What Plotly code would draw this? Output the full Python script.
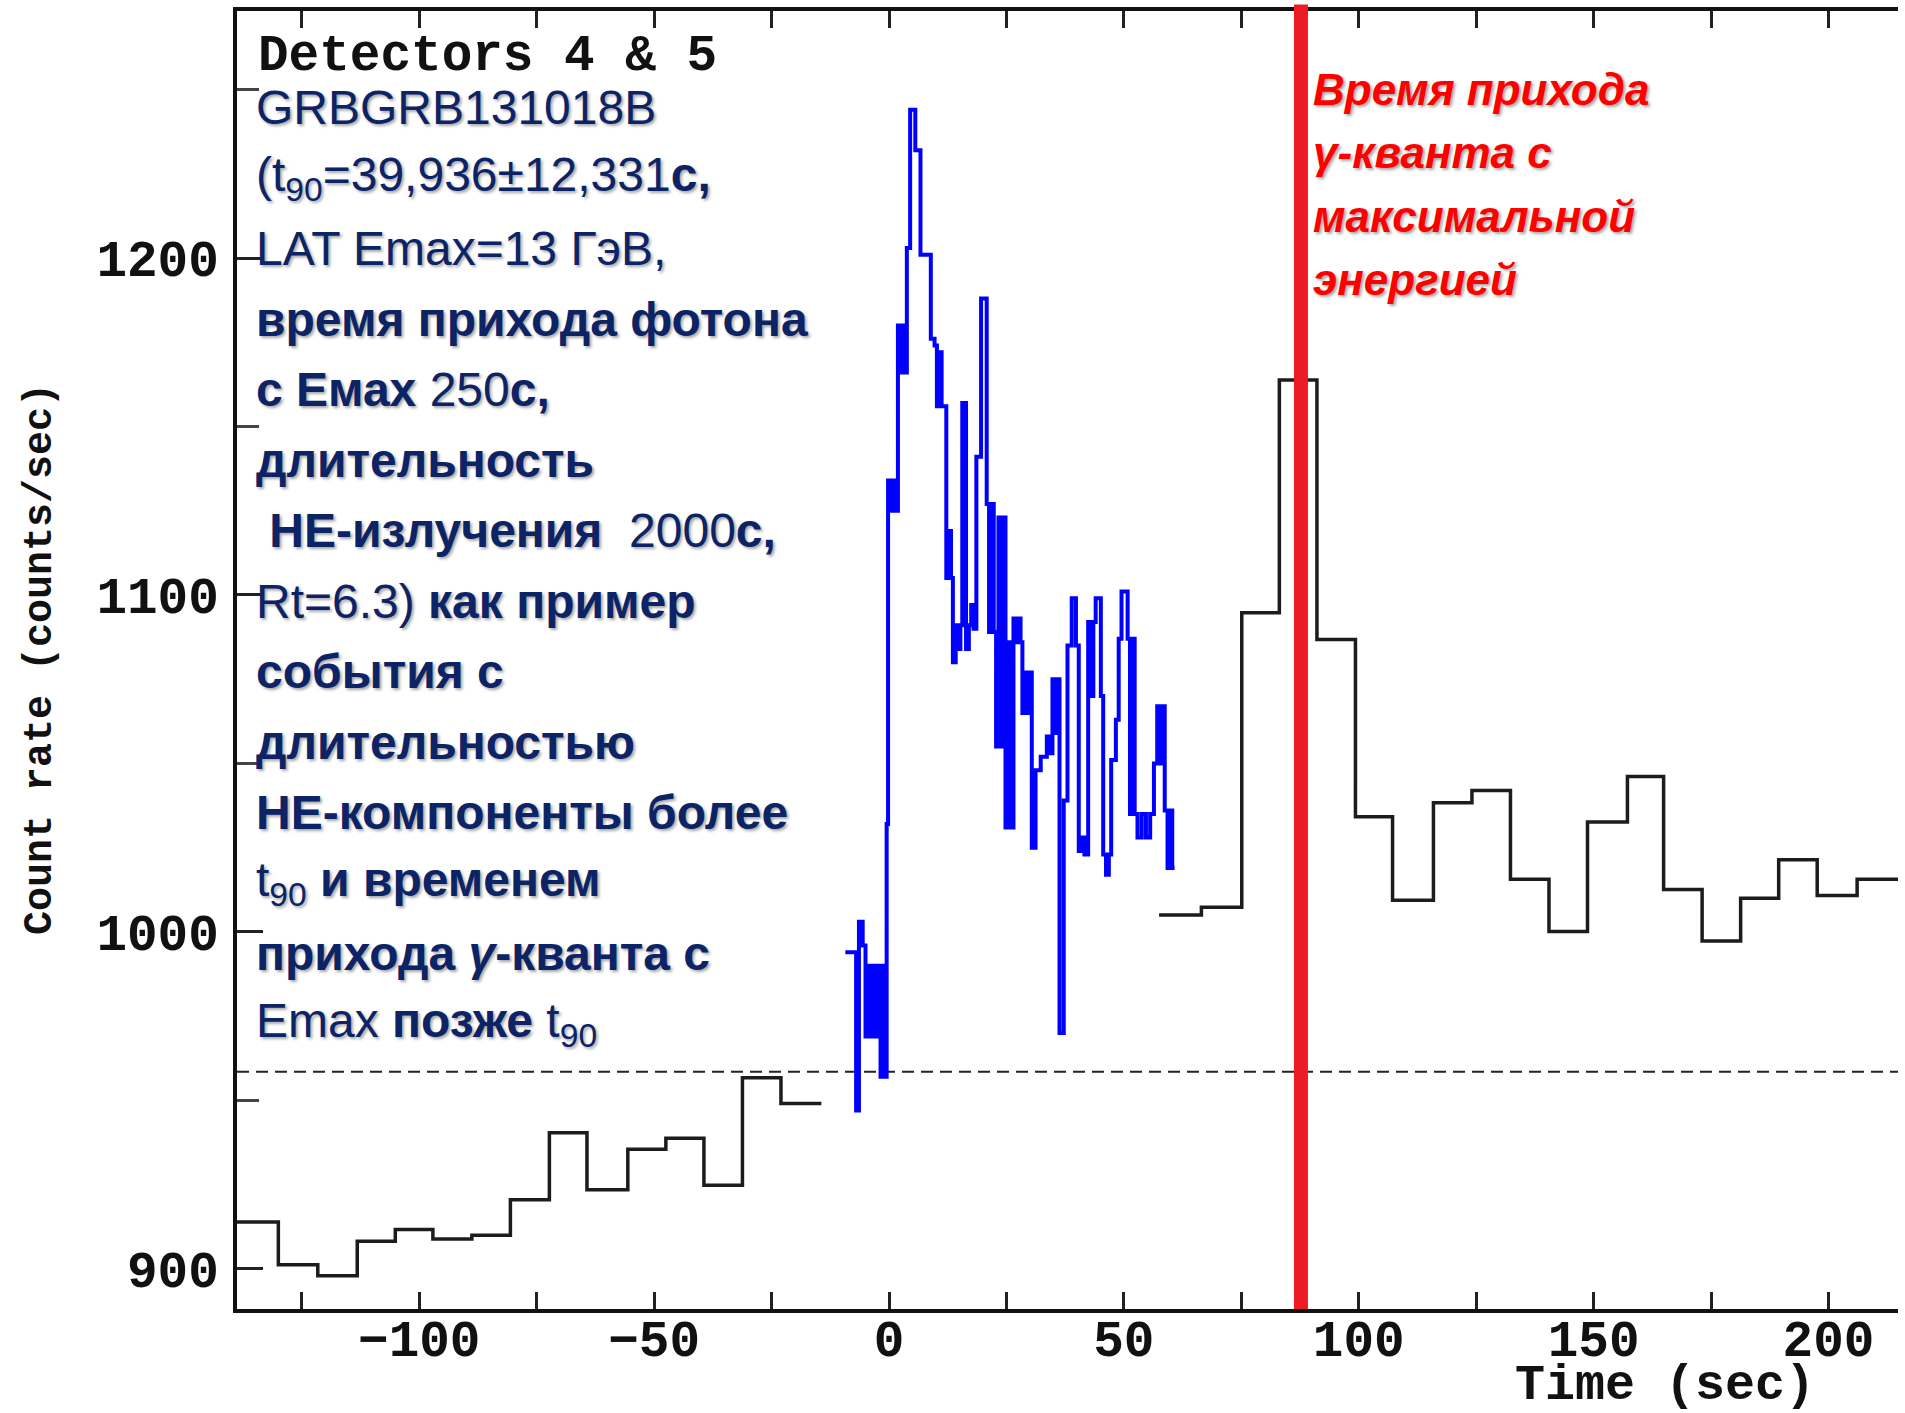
import plotly.graph_objects as go

# ---------------- data ----------------
# coarse (8 s) background histogram before the burst: bin edges and rates
pre_edges = [-138.8, -130.0, -121.6, -113.2, -105.1, -97.1, -88.8, -80.6, -72.3,
             -64.3, -55.6, -47.5, -39.4, -31.2, -23.0, -14.4]
pre_rates = [913.9, 901.2, 898.0, 908.2, 911.7, 908.9, 910.0, 920.5, 940.4,
             923.5, 935.5, 938.8, 924.8, 956.7, 949.1]

# coarse histogram after the fine-resolution interval
post_edges = [57.5, 66.5, 75.1, 83.1, 91.1, 99.3, 107.2, 115.9, 124.1, 132.3,
              140.5, 148.7, 157.2, 164.9, 173.1, 181.3, 189.4, 197.6, 206.1, 214.8]
post_rates = [1005.0, 1007.3, 1094.7, 1163.8, 1086.8, 1034.2, 1009.4, 1038.3,
              1042.0, 1015.6, 1000.1, 1032.6, 1046.1, 1012.6, 997.3, 1010.0,
              1021.4, 1010.8, 1015.6]

# fine-resolution light curve of the burst (step start times and rates)
fine_times = [-9.3, -7.0, -6.4, -5.6, -5.0, -4.3, -3.8, -3.3, -2.8, -2.3, -1.8,
              -1.3, -0.9, -0.5, -0.2, 0.3, 0.8, 1.3, 1.9, 2.4, 2.9, 3.4, 3.8,
              4.5, 5.6, 6.7, 8.9, 9.7, 10.2, 10.7, 11.2, 11.7, 12.2, 12.7, 13.2,
              13.6, 14.2, 14.7, 15.2, 15.6, 16.4, 17.0, 17.5, 18.0, 18.6, 19.6,
              20.8, 21.3, 21.8, 22.3, 22.8, 23.3, 23.8, 24.3, 24.8, 25.4, 25.9,
              26.5, 27.0, 27.5, 28.0, 28.4, 28.9, 29.4, 29.9, 30.4, 31.2, 32.3,
              33.6, 34.2, 34.8, 35.3, 35.8, 36.3, 37.2, 38.0, 38.9, 39.8, 40.4,
              41.0, 41.6, 42.4, 43.0, 43.5, 44.0, 45.1, 45.6, 46.2, 46.8, 47.3,
              48.3, 48.9, 49.5, 50.8, 51.3, 51.8, 52.3, 52.9, 53.8, 54.7, 55.6,
              56.4, 57.1, 57.6, 58.1, 58.7, 59.3, 59.8, 60.3]
fine_rates = [994, 947, 1003, 996, 969, 990, 969, 990, 969, 990, 957,
              990, 957, 1032, 1134, 1125, 1134, 1125, 1180, 1166, 1180, 1166, 1203,
              1244, 1232, 1201, 1176, 1174, 1156, 1172, 1156, 1156, 1105, 1119, 1105,
              1080, 1091, 1084, 1091, 1157, 1084, 1091, 1097, 1090, 1141, 1188,
              1127, 1089, 1127, 1089, 1055, 1123, 1055, 1123, 1031, 1086, 1031,
              1093, 1086, 1093, 1086, 1065, 1077, 1065, 1077, 1025, 1048, 1052,
              1058, 1053, 1075, 1059, 1075, 970, 1039, 1085, 1099, 1085, 1024,
              1028, 1023, 1092, 1070, 1092, 1099, 1070, 1023, 1017, 1023, 1051,
              1063, 1087, 1101, 1087, 1035, 1087, 1035, 1028, 1035, 1028, 1035,
              1050, 1067, 1050, 1067, 1036, 1019, 1036, 1019]
fine_end = 60.8

background_level = 958.5      # dashed line
emax_photon_time = 87.7       # red vertical marker

x_range = [-138.8, 214.8]
y_range = [888.1, 1273.3]
x_major_ticks = [-100, -50, 0, 50, 100, 150, 200]
y_major_ticks = [900, 1000, 1100, 1200]

blue_lines = [
    "GRBGRB131018B",
    "(t<sub>90</sub>=39,936±12,331<b>с,</b>",
    "LAT Emax=13 ГэВ,",
    "<b>время прихода фотона</b>",
    "<b>с Емах</b> 250<b>с,</b>",
    "<b>длительность</b>",
    "\u00a0<b>НЕ-излучения</b>\u00a0\u00a02000<b>с,</b>",
    "Rt=6.3) <b>как пример</b>",
    "<b>события с</b>",
    "<b>длительностью</b>",
    "<b>НЕ-компоненты более</b>",
    "t<sub>90</sub> <b>и временем</b>",
    "<b>прихода <i>γ</i>-кванта с</b>",
    "Emax <b>позже</b> t<sub>90</sub>",
]
red_lines = ["Время прихода", "<i>γ</i>-кванта с", "максимальной", "энергией"]

# ---------------- figure ----------------
W, H = 1905, 1413
ML, MR, MT, MB = 237, 7, 11, 104
plot_h = H - MT - MB
plot_w = W - ML - MR


def py(pix):  # pixel row -> paper y
    return (H - MB - pix) / plot_h


def px(pix):  # pixel column -> paper x
    return (pix - ML) / plot_w


mono = "Liberation Mono, Courier New, monospace"
fig = go.Figure()

fig.add_trace(go.Scatter(x=pre_edges, y=pre_rates + [pre_rates[-1]], mode="lines",
                         line=dict(shape="hv", color="#1c1c1c", width=3.5),
                         hoverinfo="skip", showlegend=False))
fig.add_trace(go.Scatter(x=post_edges, y=post_rates + [post_rates[-1]], mode="lines",
                         line=dict(shape="hv", color="#1c1c1c", width=3.5),
                         hoverinfo="skip", showlegend=False))
fig.add_trace(go.Scatter(x=fine_times + [fine_end], y=fine_rates + [fine_rates[-1]],
                         mode="lines", line=dict(shape="hv", color="#0000ff", width=4),
                         hoverinfo="skip", showlegend=False))

fig.add_shape(type="line", xref="paper", x0=0, x1=1, yref="y",
              y0=background_level, y1=background_level, layer="below",
              line=dict(color="#222222", width=2, dash="12px,7px"))
fig.add_shape(type="line", xref="x", x0=emax_photon_time, x1=emax_photon_time,
              yref="paper", y0=0, y1=1.005, layer="above",
              line=dict(color="#ED1C24", width=14))

ann = []
ann.append(dict(text="<b>Detectors 4 & 5</b>", xref="paper", yref="paper",
                x=px(256), y=py(57), xanchor="left", yanchor="middle", showarrow=False,
                font=dict(family=mono, size=51, color="#111111")))
for i, t in enumerate(blue_lines):
    baseline = 125 + 70.45 * i
    ann.append(dict(text=t, xref="paper", yref="paper", x=px(254),
                    y=py(baseline - 17), xanchor="left", yanchor="middle",
                    showarrow=False,
                    font=dict(family="Liberation Sans, Arial, sans-serif", size=48,
                              color="#0c2466",
                              shadow="2px 2px 3px rgba(0,0,0,0.35)")))
for i, t in enumerate(red_lines):
    baseline = 105 + 63.3 * i
    ann.append(dict(text=t, xref="paper", yref="paper", x=px(1311),
                    y=py(baseline - 15.5), xanchor="left", yanchor="middle",
                    showarrow=False,
                    font=dict(family="Liberation Sans, Arial, sans-serif", size=44,
                              color="#ff0000", weight="bold", style="italic",
                              shadow="2px 2px 3px rgba(0,0,0,0.35)")))
ann.append(dict(text="Count rate (counts/sec)", xref="paper", yref="paper",
                x=px(40), y=py(659), xanchor="center", yanchor="middle",
                textangle=-90, showarrow=False,
                font=dict(family=mono, size=40, color="#111111", weight="bold")))
ann.append(dict(text="Time (sec)", xref="paper", yref="paper",
                x=px(1665), y=py(1385), xanchor="center", yanchor="middle",
                showarrow=False,
                font=dict(family=mono, size=50, color="#111111", weight="bold")))

tickfont = dict(family=mono, size=51, color="#111111", weight="bold")
fig.update_layout(
    width=W, height=H, autosize=False,
    margin=dict(l=ML, r=MR, t=MT, b=MB, pad=0),
    paper_bgcolor="white", plot_bgcolor="white",
    showlegend=False, annotations=ann,
    xaxis=dict(range=x_range, showgrid=False, zeroline=False,
               showline=True, linewidth=4, linecolor="#111111", mirror="ticks",
               ticks="inside", ticklen=17, tickwidth=3, tickcolor="#222222",
               tickmode="array", tickvals=x_major_ticks, tickfont=tickfont,
               ticklabelstandoff=-18,
               minor=dict(ticks="inside", dtick=25, tick0=0, ticklen=17,
                          tickwidth=3, tickcolor="#222222", showgrid=False)),
    yaxis=dict(range=y_range, showgrid=False, zeroline=False,
               showline=True, linewidth=4, linecolor="#111111", mirror=False,
               ticks="inside", ticklen=26, tickwidth=3, tickcolor="#222222",
               tickmode="array", tickvals=y_major_ticks, tickfont=tickfont,
               ticklabelstandoff=4,
               minor=dict(ticks="inside", dtick=50, tick0=0, ticklen=22,
                          tickwidth=3, tickcolor="#444444", showgrid=False)),
)

fig.write_html("out.html")
